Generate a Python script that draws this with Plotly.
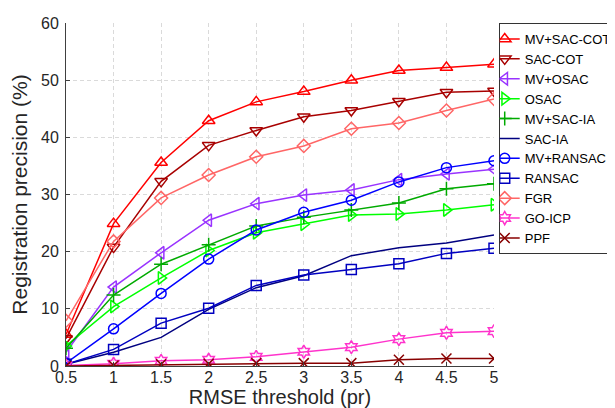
import plotly.graph_objects as go

thresholds = [0.5, 1, 1.5, 2, 2.5, 3, 3.5, 4, 4.5, 5]
x_tick_labels = ["0.5", "1", "1.5", "2", "2.5", "3", "3.5", "4", "4.5", "5"]
y_tick_vals = [0, 10, 20, 30, 40, 50, 60]

mv_sac_cot = [5.5, 24.9, 35.6, 42.9, 46.2, 48.0, 50.0, 51.7, 52.2, 52.8]
sac_cot = [4.8, 20.8, 32.3, 38.6, 41.2, 43.6, 44.7, 46.3, 47.9, 48.1]
mv_osac = [2.4, 13.8, 19.8, 25.5, 28.4, 29.9, 30.8, 32.6, 33.6, 34.4]
osac = [3.5, 10.4, 15.4, 20.2, 23.3, 24.8, 26.4, 26.6, 27.3, 28.2]
mv_sac_ia = [3.1, 12.4, 17.8, 21.2, 24.5, 26.0, 27.3, 28.5, 31.0, 31.9]
sac_ia = [0.3, 2.4, 5.0, 9.9, 13.7, 15.8, 19.3, 20.7, 21.5, 22.9]
mv_ransac = [0.5, 6.5, 12.7, 18.7, 23.8, 26.9, 29.0, 32.2, 34.7, 35.9]
ransac = [0.3, 2.9, 7.5, 10.1, 14.1, 15.9, 16.9, 17.9, 19.7, 20.6]
fgr = [7.9, 21.8, 29.4, 33.4, 36.6, 38.5, 41.5, 42.5, 44.7, 46.7]
go_icp = [0.1, 0.4, 0.9, 1.1, 1.6, 2.5, 3.3, 4.7, 5.8, 6.1]
ppf = [0.0, 0.1, 0.3, 0.4, 0.5, 0.5, 0.5, 1.1, 1.3, 1.3]

series = [
    ("MV+SAC-COT", mv_sac_cot, "#FF0000", "triangle-up-open"),
    ("SAC-COT", sac_cot, "#A80000", "triangle-down-open"),
    ("MV+OSAC", mv_osac, "#9933FF", "triangle-left-open"),
    ("OSAC", osac, "#00FF00", "triangle-right-open"),
    ("MV+SAC-IA", mv_sac_ia, "#00AA00", "cross-thin-open"),
    ("SAC-IA", sac_ia, "#000080", None),
    ("MV+RANSAC", mv_ransac, "#0000FF", "circle-open"),
    ("RANSAC", ransac, "#0000C0", "square-open"),
    ("FGR", fgr, "#FF6666", "diamond-open"),
    ("GO-ICP", go_icp, "#FF33CC", "hexagram-open"),
    ("PPF", ppf, "#880000", "x-thin-open"),
]

fig = go.Figure()
for name, vals, color, sym in series:
    if sym is None:
        fig.add_trace(go.Scatter(x=thresholds, y=vals, name=name, mode="lines",
                                 line=dict(color=color, width=1.5)))
    else:
        fig.add_trace(go.Scatter(
            x=thresholds, y=vals, name=name, mode="lines+markers",
            line=dict(color=color, width=1.5),
            marker=dict(symbol=sym, size=11 if "triangle" in sym else 10,
                        color=color, line=dict(color=color, width=1.5)),
        ))

font_family = "Liberation Sans, Arial, sans-serif"
fig.update_layout(
    width=615, height=408,
    margin=dict(l=58, r=129, t=15, b=50, autoexpand=False),
    paper_bgcolor="white", plot_bgcolor="white",
    font=dict(family=font_family, size=16, color="#262626"),
    showlegend=True,
    legend=dict(
        x=1.011, y=1.0, xanchor="left", yanchor="top",
        bgcolor="white", bordercolor="#333333", borderwidth=1,
        font=dict(family=font_family, size=13, color="#000000"),
        tracegroupgap=0, itemwidth=30, indentation=-15,
    ),
    xaxis=dict(
        range=[0.5, 5], tickvals=thresholds, ticktext=x_tick_labels,
        showline=True, linecolor="#404040", linewidth=1,
        ticks="inside", ticklen=4, tickcolor="#404040",
        showgrid=True, gridcolor="#DADADA", griddash="4px,3px", gridwidth=1,
        zeroline=False, mirror=False, ticklabelstandoff=-3,
        title=dict(text="RMSE threshold (pr)", font=dict(size=20, color="#262626"), standoff=0),
        tickfont=dict(size=16, color="#262626"),
    ),
    yaxis=dict(
        range=[0, 60], tickvals=y_tick_vals,
        showline=True, linecolor="#404040", linewidth=1,
        ticks="inside", ticklen=4, tickcolor="#404040",
        showgrid=True, gridcolor="#DADADA", griddash="4px,3px", gridwidth=1,
        zeroline=False, mirror=False, ticklabelstandoff=3,
        title=dict(text="Registration precision (%)", font=dict(size=21, color="#262626"), standoff=10),
        tickfont=dict(size=16, color="#262626"),
    ),
)

fig.write_html("out.html")
